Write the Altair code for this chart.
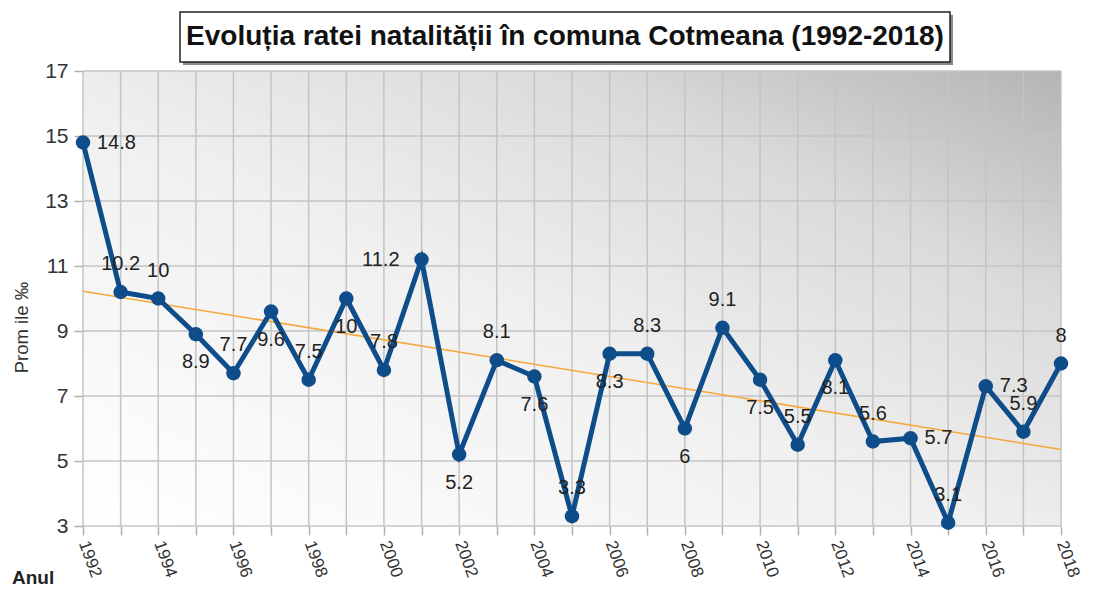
import altair as alt
import pandas as pd

years = list(range(1992, 2019))
rates = [14.8, 10.2, 10, 8.9, 7.7, 9.6, 7.5, 10, 7.8, 11.2, 5.2, 8.1, 7.6, 3.3,
         8.3, 8.3, 6, 9.1, 7.5, 5.5, 8.1, 5.6, 5.7, 3.1, 7.3, 5.9, 8]
label_side = ["r", "a", "a", "b", "a", "b", "a", "b", "a", "l", "b", "a", "b", "a",
              "b", "a", "b", "a", "b", "a", "b", "a", "r", "a", "r", "a", "a"]
y_ticks = [3, 5, 7, 9, 11, 13, 15, 17]
title_text = "Evoluția ratei natalității în comuna Cotmeana (1992-2018)"
y_title = "Prom ile ‰"
x_title = "Anul"

W, H = 978, 455
FONT = "Liberation Sans"
LINE_COLOR = "#0f4c8a"

df = pd.DataFrame({"an": years, "rata": rates, "side": label_side})
df["label"] = df["rata"].map(lambda v: f"{v:g}")

xs = alt.Scale(domain=[1992, 2018], nice=False, zero=False)
ys = alt.Scale(domain=[3, 17], nice=False, zero=False)

x_axis = alt.Axis(values=years, format="d",
                  labelExpr="datum.value % 2 == 0 ? datum.label : ''",
                  labelAngle=70, labelAlign="left", labelBaseline="middle",
                  labelFontSize=17, labelFont=FONT, labelColor="#333333",
                  labelPadding=6, tickColor="#b0b0b0", tickSize=9, tickWidth=1.5,
                  domain=False, grid=False, title=None)
y_axis = alt.Axis(values=y_ticks, labelFontSize=21, labelFont=FONT,
                  labelColor="#333333", labelPadding=6,
                  tickColor="#b0b0b0", tickSize=9, tickWidth=1.5,
                  domain=False, grid=False, title=y_title, titleFont=FONT,
                  titleFontSize=18.5, titleFontWeight="normal", titleColor="#333333",
                  titleX=-62, titleY=256, titleAngle=270, titleAlign="center",
                  titleBaseline="middle")

X = alt.X("an:Q", scale=xs, axis=x_axis)
Y = alt.Y("rata:Q", scale=ys, axis=y_axis)

one = pd.DataFrame({"t": [0]})

gradient = alt.LinearGradient(
    gradient="linear", x1=0, y1=1, x2=1, y2=0,
    stops=[alt.GradientStop(offset=0, color="#ffffff"),
           alt.GradientStop(offset=0.45, color="#f0f0f0"),
           alt.GradientStop(offset=0.75, color="#dadada"),
           alt.GradientStop(offset=1, color="#b4b4b4")])

bg = alt.Chart(one).mark_rect(color=gradient).encode(
    x=alt.value(0), x2=alt.value(W), y=alt.value(0), y2=alt.value(H))

vgrid = alt.Chart(pd.DataFrame({"an": years})).mark_rule(
    color="#c4c4c4", strokeWidth=1.5).encode(x=X)
hgrid = alt.Chart(pd.DataFrame({"rata": y_ticks})).mark_rule(
    color="#c4c4c4", strokeWidth=1.5).encode(y=Y)

trend = alt.Chart(df).transform_regression("an", "rata").mark_line(
    color="#f5a83a", strokeWidth=1.5).encode(x=X, y=Y)

line = alt.Chart(df).mark_line(color=LINE_COLOR, strokeWidth=5).encode(x=X, y=Y)
points = alt.Chart(df).mark_circle(color=LINE_COLOR, size=210, opacity=1).encode(x=X, y=Y)

def labels(side, **kw):
    return alt.Chart(df).transform_filter(alt.datum.side == side).mark_text(
        font=FONT, fontSize=20, color="#222222", **kw).encode(x=X, y=Y, text="label:N")

lab_a = labels("a", dy=-28, align="center", baseline="middle")
lab_b = labels("b", dy=28, align="center", baseline="middle")
lab_r = labels("r", dx=14, align="left", baseline="middle")
lab_l = labels("l", dx=-22, align="right", baseline="middle")

shadow = alt.Chart(one).mark_rect(color="#8a8a8a").encode(
    x=alt.value(100), x2=alt.value(870), y=alt.value(-56), y2=alt.value(-6))
box = alt.Chart(one).mark_rect(fill="#ffffff", stroke="#222222", strokeWidth=1.5).encode(
    x=alt.value(97), x2=alt.value(867), y=alt.value(-59), y2=alt.value(-9))
title = alt.Chart(pd.DataFrame({"t": [title_text]})).mark_text(
    font=FONT, fontSize=28, fontWeight="bold", color="#111111",
    align="center", baseline="middle").encode(
    x=alt.value(482), y=alt.value(-34), text="t:N")

anul = alt.Chart(pd.DataFrame({"t": [x_title]})).mark_text(
    font=FONT, fontSize=19, fontWeight="bold", color="#222222",
    align="left", baseline="middle").encode(
    x=alt.value(-71), y=alt.value(507), text="t:N")

chart = alt.layer(bg, vgrid, hgrid, trend, line, points, lab_a, lab_b, lab_r, lab_l,
                  shadow, box, title, anul).properties(
    width=W, height=H,
    autosize=alt.AutoSizeParams(type="none"),
    padding={"left": 75, "top": 63, "right": 24, "bottom": 61},
    background="#ffffff",
).configure_view(stroke=None)

chart.save("out.html", embed_options={"renderer": "svg", "actions": False})
